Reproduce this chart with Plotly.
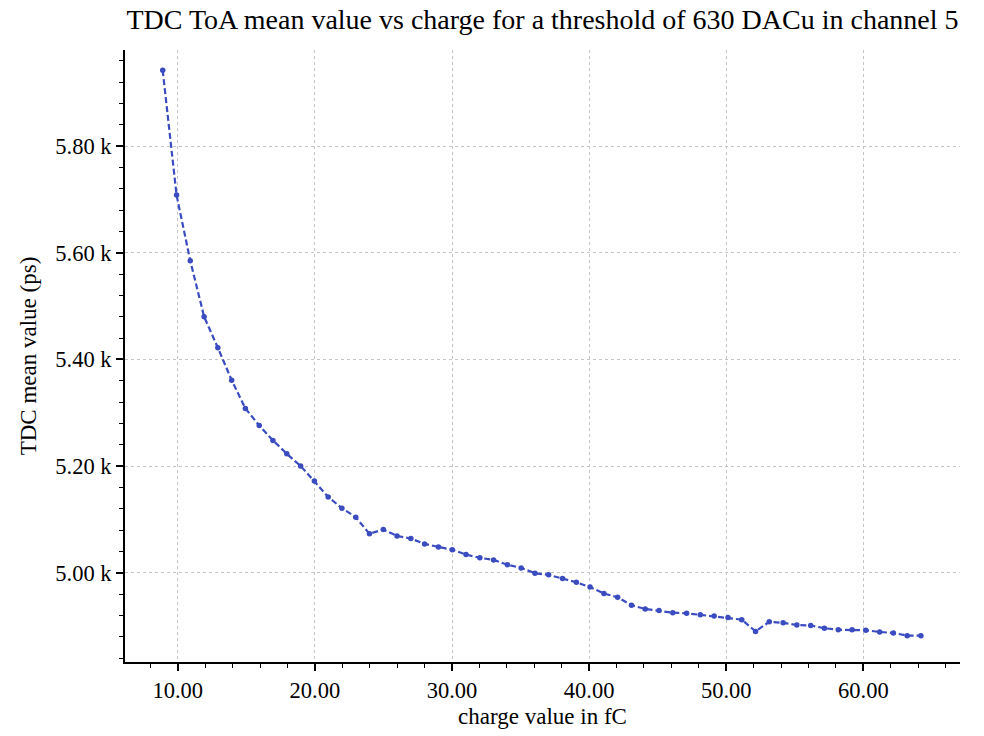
import plotly.graph_objects as go

charge_fC = [8.90, 9.91, 10.91, 11.92, 12.92, 13.93, 14.93, 15.94, 16.94, 17.95,
             18.96, 19.96, 20.97, 21.97, 22.98, 23.98, 24.99, 25.99, 27.00, 28.00,
             29.01, 30.02, 31.02, 32.03, 33.03, 34.04, 35.04, 36.05, 37.05, 38.06,
             39.07, 40.07, 41.08, 42.08, 43.09, 44.09, 45.10, 46.10, 47.11, 48.11,
             49.12, 50.13, 51.13, 52.14, 53.14, 54.15, 55.15, 56.16, 57.16, 58.17,
             59.18, 60.18, 61.19, 62.19, 63.20, 64.20]
tdc_mean_ps = [5942, 5708, 5585, 5480, 5422, 5361, 5308, 5276, 5248, 5223,
               5200, 5172, 5142, 5121, 5104, 5073, 5081, 5069, 5064, 5054,
               5048, 5043, 5034, 5028, 5024, 5015, 5009, 4999, 4996, 4989,
               4982, 4973, 4961, 4954, 4939, 4932, 4929, 4925, 4924, 4921,
               4919, 4916, 4912, 4890, 4908, 4906, 4902, 4901, 4896, 4893,
               4893, 4892, 4889, 4887, 4882, 4882]

x_tick_vals = [10, 20, 30, 40, 50, 60]
x_tick_text = ["10.00", "20.00", "30.00", "40.00", "50.00", "60.00"]
y_tick_vals = [5000, 5200, 5400, 5600, 5800]
y_tick_text = ["5.00 k", "5.20 k", "5.40 k", "5.60 k", "5.80 k"]

FONT = "Liberation Serif, Times New Roman, serif"
LINE_COLOR = "#3b4cc0"

fig = go.Figure()
fig.add_trace(go.Scatter(
    x=charge_fC, y=tdc_mean_ps, mode="lines+markers",
    line=dict(color=LINE_COLOR, width=2.2, dash="6px,3px"),
    marker=dict(color=LINE_COLOR, size=5.5),
    showlegend=False,
))

axis_common = dict(
    showline=True, linecolor="black", linewidth=2,
    ticks="outside", ticklen=7, tickwidth=1.5, tickcolor="black",
    showgrid=True, gridcolor="#c4c4c4", gridwidth=1, griddash="dot",
    zeroline=False, mirror=False,
    tickfont=dict(family=FONT, size=22.5, color="black"),
)

fig.update_layout(
    width=984, height=736,
    paper_bgcolor="white", plot_bgcolor="white",
    margin=dict(l=125, r=24, t=50, b=74),
    font=dict(family=FONT, color="black"),
    title=dict(
        text="TDC ToA mean value vs charge for a threshold of 630 DACu in channel 5",
        x=(125 + 835 / 2) / 984, xref="container", xanchor="center",
        y=1 - 19 / 736, yref="container", yanchor="middle",
        font=dict(family=FONT, size=28, color="black"),
    ),
    xaxis=dict(
        range=[6.15, 67.05],
        tickvals=x_tick_vals, ticktext=x_tick_text,
        title=dict(text="charge value in fC", font=dict(family=FONT, size=23, color="black"), standoff=6),
        minor=dict(dtick=2, tick0=0, ticks="outside", ticklen=4, tickwidth=1.2, tickcolor="black", showgrid=False),
        **axis_common,
    ),
    yaxis=dict(
        range=[4832.6, 5980],
        tickvals=y_tick_vals, ticktext=y_tick_text,
        title=dict(text="TDC mean value (ps)", font=dict(family=FONT, size=23, color="black"), standoff=12),
        minor=dict(dtick=40, tick0=0, ticks="outside", ticklen=4, tickwidth=1.2, tickcolor="black", showgrid=False),
        **axis_common,
    ),
)

fig.write_html("out.html", config={"displayModeBar": False},
               post_script="document.body.style.margin='0';")
